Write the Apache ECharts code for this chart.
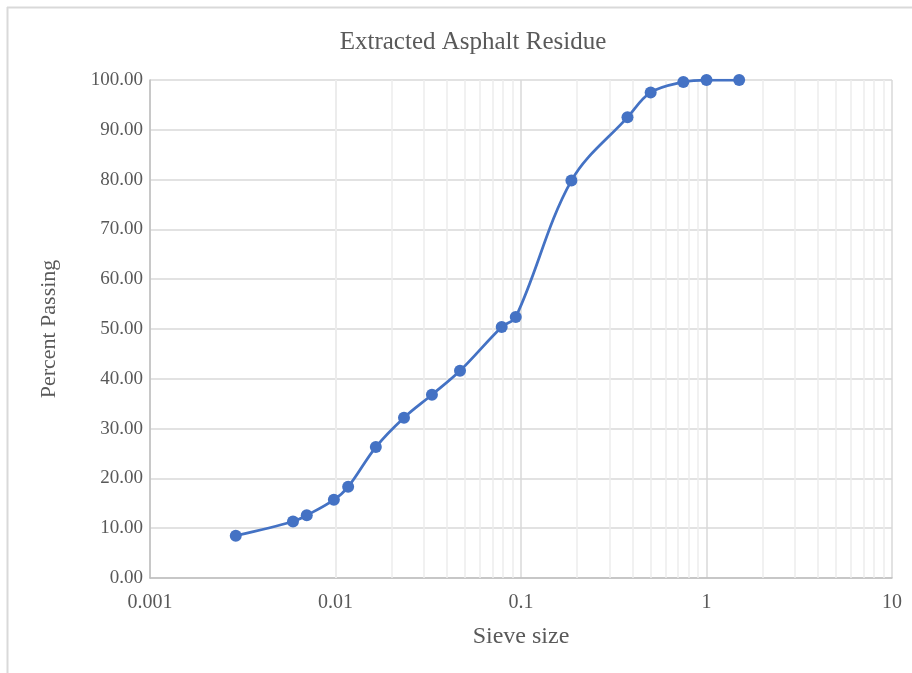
<!DOCTYPE html>
<html>
<head>
<meta charset="utf-8">
<script src="https://cdn.jsdelivr.net/npm/echarts@6/dist/echarts.min.js"></script>
<style>
  html, body { margin: 0; padding: 0; background: #fff; }
  #chart { width: 912px; height: 673px; }
</style>
</head>
<body>
<div id="chart"></div>
<script>
// sieve sizes (inches) and percent passing
const sieveSize = [0.0029, 0.0059, 0.0070, 0.0098, 0.0117, 0.0165, 0.0234, 0.0331, 0.0469, 0.0787, 0.0937, 0.187, 0.375, 0.5, 0.75, 1, 1.5]
const percentPassing = [8.5, 11.35, 12.6, 15.7, 18.3, 26.3, 32.2, 36.8, 41.6, 50.4, 52.4, 79.8, 92.5, 97.5, 99.6, 100, 100]
const decades = [0.001, 0.01, 0.1, 1]

const chart = echarts.init(document.getElementById('chart'))

// minor vertical grid lines at 2..9 of each decade
const minorLines = []
decades.forEach(d => {
  for (let k = 2; k <= 9; k++) minorLines.push({ xAxis: +(d * k).toPrecision(3) })
})

const font = '"Liberation Serif", "Times New Roman", serif'
const textColor = '#595959'

const option = {
  backgroundColor: '#fff',
  animation: false,
  title: {
    text: 'Extracted Asphalt Residue',
    left: 468,
    top: 25,
    textAlign: 'center',
    textStyle: { fontFamily: font, fontSize: 25, fontWeight: 'normal', color: textColor }
  },
  graphic: [
    { type: 'line', shape: { x1: 7, y1: 7.5, x2: 912, y2: 7.5 }, style: { stroke: '#d9d9d9', lineWidth: 2 } },
    { type: 'line', shape: { x1: 7.5, y1: 7, x2: 7.5, y2: 673 }, style: { stroke: '#d9d9d9', lineWidth: 2 } }
  ],
  grid: { left: 150, right: 20, top: 80, bottom: 95 },
  xAxis: {
    type: 'log',
    logBase: 10,
    min: 0.001,
    max: 10,
    splitNumber: 4,
    name: 'Sieve size',
    nameLocation: 'middle',
    nameGap: 47,
    nameTextStyle: { fontFamily: font, fontSize: 24, color: textColor },
    axisLine: { show: true, lineStyle: { color: '#bfbfbf', width: 1.5 } },
    axisTick: { show: false },
    axisLabel: {
      fontFamily: font, fontSize: 20, color: textColor, margin: 15,
      formatter: v => String(+(+v).toPrecision(3))
    },
    splitLine: { show: true, lineStyle: { color: '#d9d9d9', width: 1.5 } }
  },
  yAxis: {
    type: 'value',
    min: 0,
    max: 100,
    interval: 10,
    name: 'Percent Passing',
    nameLocation: 'middle',
    nameGap: 90,
    nameTextStyle: { fontFamily: font, fontSize: 22, color: textColor },
    axisLine: { show: true, lineStyle: { color: '#bfbfbf', width: 1.5 } },
    axisTick: { show: false },
    axisLabel: {
      fontFamily: font, fontSize: 19, color: textColor, margin: 7,
      formatter: v => v.toFixed(2)
    },
    splitLine: { show: true, lineStyle: { color: '#d9d9d9', width: 1.5 } }
  },
  series: [
    {
      type: 'line',
      data: [],
      silent: true,
      z: 1,
      markLine: {
        silent: true,
        z: 1,
        symbol: 'none',
        label: { show: false },
        lineStyle: { color: '#ededed', width: 1.5, type: 'solid' },
        data: minorLines
      }
    },
    {
      type: 'line',
      z: 3,
      data: sieveSize.map((s, i) => [s, percentPassing[i]]),
      smooth: 0.35,
      symbol: 'circle',
      symbolSize: 12,
      lineStyle: { color: '#4472c4', width: 2.75 },
      itemStyle: { color: '#4472c4' }
    }
  ]
}

chart.setOption(option)
</script>
</body>
</html>
